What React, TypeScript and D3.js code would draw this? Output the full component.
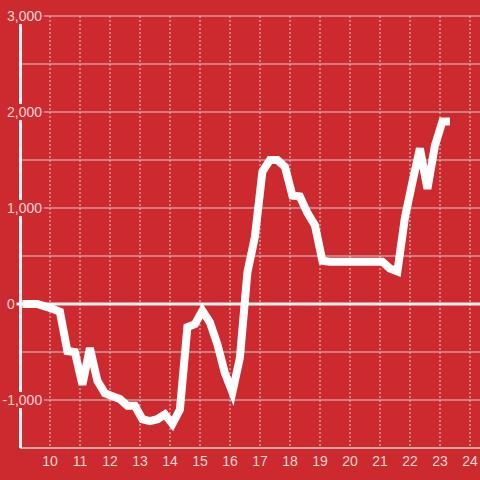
import React, { useEffect, useRef } from 'react';
import * as d3 from 'd3';

// decimal hours of day
const hours = [
    9.08, 9.33, 9.58, 9.83, 10.08, 10.33, 10.58, 10.83, 11.08, 11.33, 11.58, 11.83,
    12.08, 12.33, 12.58, 12.83, 13.08, 13.33, 13.58, 13.83, 14.08, 14.33, 14.58, 14.83,
    15.08, 15.33, 15.58, 15.83, 16.08, 16.33, 16.58, 16.83, 17.08, 17.33, 17.58, 17.83,
    18.08, 18.33, 18.58, 18.83, 19.08, 19.33, 19.58, 19.83, 20.08, 20.33, 20.58, 20.83,
    21.08, 21.33, 21.58, 21.83, 22.08, 22.33, 22.58, 22.83, 23.08, 23.33,
];
const values = [
    0, 0, 0, -25, -50, -80, -490, -500, -840, -460, -800, -930,
    -960, -990, -1060, -1060, -1200, -1220, -1200, -1150, -1250, -1100, -240, -210,
    -70, -190, -420, -720, -920, -560, 330, 700, 1380, 1500, 1500, 1430,
    1130, 1120, 950, 820, 450, 440, 440, 440, 440, 440, 440, 440,
    440, 370, 340, 900, 1270, 1620, 1200, 1650, 1900, 1900,
];
const xTicks = [10, 11, 12, 13, 14, 15, 16, 17, 18, 19, 20, 21, 22, 23, 24];
const yGrid = [2500, 2000, 1500, 1000, 500, -500, -1000];
const yLabels = [3000, 2000, 1000, 0, -1000];

export default function App() {
    const ref = useRef<SVGSVGElement | null>(null);

    useEffect(() => {
        const svg = d3.select(ref.current);
        svg.selectAll('*').remove();
        const width = 480, height = 480;
        const x = d3.scaleLinear().domain([9, 24.333]).range([20, 480]);
        const y = d3.scaleLinear().domain([-1500, 3000]).range([448, 16]);
        const bg = '#cc2a2f';
        const grid = '#d0d0d0';
        const txt = '#f4d6d6';

        svg.attr('viewBox', `0 0 ${width} ${height}`);
        svg.append('rect').attr('width', width).attr('height', height).attr('fill', bg);

        // vertical dotted grid
        svg.append('g').selectAll('line').data(xTicks).join('line')
            .attr('x1', d => x(d)).attr('x2', d => x(d))
            .attr('y1', y(3000)).attr('y2', y(-1500))
            .attr('stroke', grid).attr('stroke-width', 1)
            .attr('stroke-dasharray', '2,2');

        // horizontal grid
        svg.append('g').selectAll('line').data([3000, ...yGrid]).join('line')
            .attr('x1', 20).attr('x2', width)
            .attr('y1', d => y(d)).attr('y2', d => y(d))
            .attr('stroke', grid).attr('stroke-width', 1);

        // bottom axis line
        svg.append('line')
            .attr('x1', 20).attr('x2', width)
            .attr('y1', y(-1500)).attr('y2', y(-1500))
            .attr('stroke', grid).attr('stroke-width', 1.5);

        // y axis line
        svg.append('line')
            .attr('x1', 20.5).attr('x2', 20.5)
            .attr('y1', y(3000)).attr('y2', y(-1500))
            .attr('stroke', '#f2f2f2').attr('stroke-width', 3);

        // zero line
        svg.append('line')
            .attr('x1', 16).attr('x2', width)
            .attr('y1', y(0)).attr('y2', y(0))
            .attr('stroke', '#f2f2f2').attr('stroke-width', 3);

        // y labels with background boxes
        const fmt = d3.format(',');
        const lab = svg.append('g').selectAll('g').data(yLabels).join('g');
        const texts = lab.append('text')
            .attr('x', d => (d < 0 ? 2.5 : 7))
            .attr('y', d => y(d))
            .attr('dy', '0.35em')
            .attr('font-family', '"Liberation Sans", Arial, sans-serif')
            .attr('font-size', 14)
            .attr('fill', txt)
            .text(d => fmt(d).replace('−', '-'));
        texts.each(function () {
            const b = (this as SVGTextElement).getBBox();
            d3.select((this as SVGTextElement).parentNode as SVGGElement)
                .insert('rect', 'text')
                .attr('x', b.x - 1).attr('y', y((d3.select(this).datum() as number)) - 8)
                .attr('width', b.width + 2.5).attr('height', 16)
                .attr('fill', bg);
        });

        // x labels
        svg.append('g').selectAll('text').data(xTicks).join('text')
            .attr('x', d => x(d))
            .attr('y', 466)
            .attr('text-anchor', 'middle')
            .attr('font-family', '"Liberation Sans", Arial, sans-serif')
            .attr('font-size', 14)
            .attr('fill', txt)
            .text(d => d);

        const pts = hours.map((h, i) => [h, values[i]] as [number, number]);
        const line = d3.line<[number, number]>()
            .x(d => x(d[0]))
            .y(d => y(d[1]));

        svg.append('path')
            .datum(pts)
            .attr('fill', 'none')
            .attr('stroke', '#ffffff')
            .attr('stroke-width', 8)
            .attr('stroke-linejoin', 'miter')
            .attr('d', line);
    }, []);

    return <svg ref={ref} width={480} height={480} style={{ position: 'absolute', left: 0, top: 0, display: 'block' }} />;
}
